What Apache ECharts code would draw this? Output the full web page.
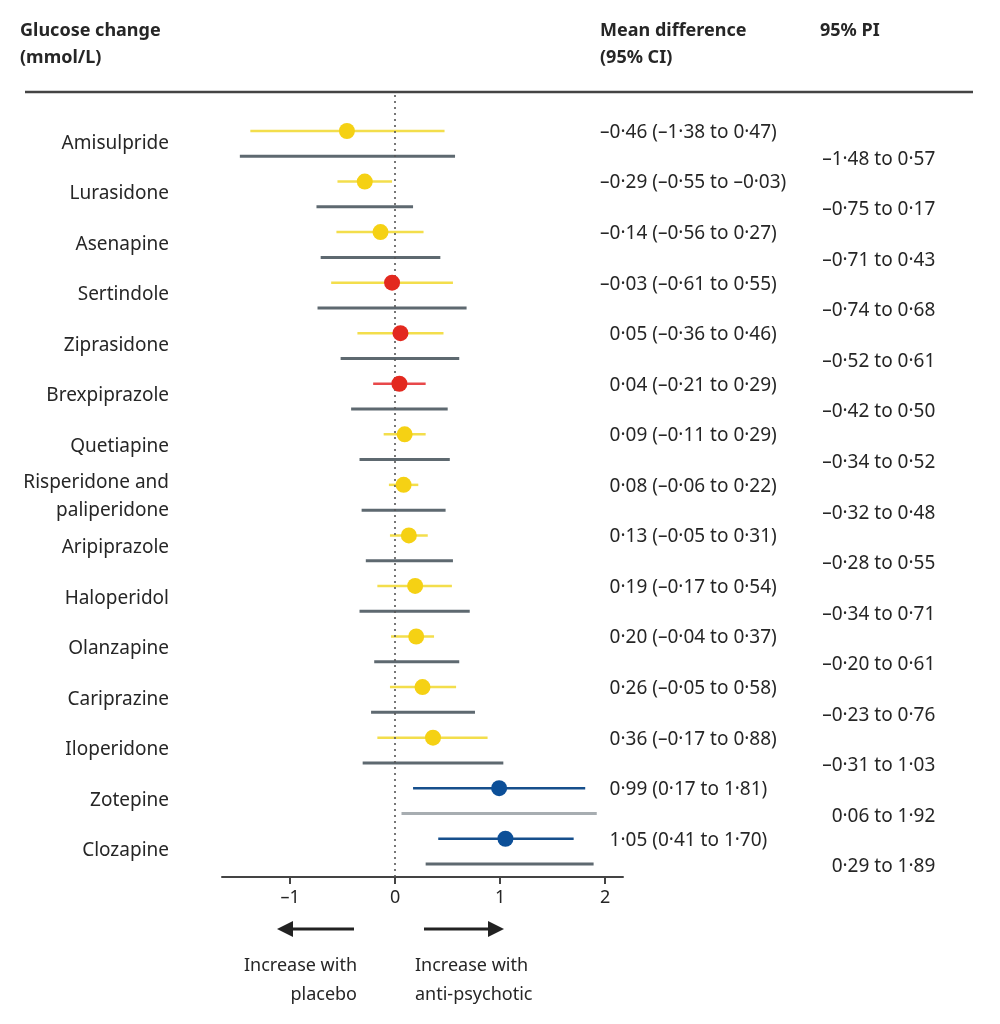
<!DOCTYPE html>
<html>
<head>
<meta charset="utf-8">
<script src="https://cdn.jsdelivr.net/npm/echarts@6/dist/echarts.min.js"></script>
<style>html,body{margin:0;padding:0;background:#fff}#c{width:1000px;height:1024px}</style>
</head>
<body>
<div id="c"></div>
<script>
// ---- data ----
const drugs = ['Amisulpride','Lurasidone','Asenapine','Sertindole','Ziprasidone','Brexpiprazole','Quetiapine','Risperidone and\npaliperidone','Aripiprazole','Haloperidol','Olanzapine','Cariprazine','Iloperidone','Zotepine','Clozapine'];
const meanDiff = [-0.46,-0.29,-0.14,-0.03,0.05,0.04,0.09,0.08,0.13,0.19,0.20,0.26,0.36,0.99,1.05];
const ciLow  = [-1.38,-0.55,-0.56,-0.61,-0.36,-0.21,-0.11,-0.06,-0.05,-0.17,-0.04,-0.05,-0.17,0.17,0.41];
const ciHigh = [0.47,-0.03,0.27,0.55,0.46,0.29,0.29,0.22,0.31,0.54,0.37,0.58,0.88,1.81,1.70];
const piLow  = [-1.48,-0.75,-0.71,-0.74,-0.52,-0.42,-0.34,-0.32,-0.28,-0.34,-0.20,-0.23,-0.31,0.06,0.29];
const piHigh = [0.57,0.17,0.43,0.68,0.61,0.50,0.52,0.48,0.55,0.71,0.61,0.76,1.03,1.92,1.89];
// point class: y = yellow, r = red, b = blue
const pointClass = ['y','y','y','r','r','r','y','y','y','y','y','y','y','b','b'];
const ciClass    = ['y','y','y','y','y','r','y','y','y','y','y','y','y','b','b'];
const piClass    = ['d','d','d','d','d','d','d','d','d','d','d','d','d','l','d'];
const xTicks = [-1,0,1,2];

// ---- styles ----
const FONT = '"Noto Sans"';
const TXT = '#262626';
const pointColors = {y:'#F5D114', r:'#E3291F', b:'#0C4F98'};
const ciColors = {y:'#F3DE4C', r:'#E8484A', b:'#164F8C'};
const piColors = {d:'#5E6970', l:'#A7ADB1'};

const fmt = v => (v < 0 ? '\u2013' : '') + Math.abs(v).toFixed(2).replace('.', '\u00B7');
const pad = v => (v < 0 ? '' : '\u2002');

const idx = drugs.map((d,i)=>i);
const MD_X = 1.952, PI_X = 4.067, LAB_X = -1.65;

function lineSeries(name, lo, hi, off, colorOf, width){
  return {
    type:'custom', name, clip:false, z:3,
    data: idx.map(i=>[lo[i], hi[i], i+off, i]),
    renderItem:(params, api)=>{
      const i = api.value(3);
      const a = api.coord([api.value(0), api.value(2)]);
      const b = api.coord([api.value(1), api.value(2)]);
      return {type:'line', shape:{x1:a[0],y1:a[1],x2:b[0],y2:b[1]},
        style:{stroke:colorOf(i), lineWidth:width, lineCap:'butt'}};
    }
  };
}

function textSeries(name, xv, off, pos, dist, fmtFn){
  return {type:'scatter', name, clip:false, symbolSize:0, itemStyle:{opacity:1},
    data: idx.map(i=>[xv, i+off]),
    label:{show:true, position:pos, distance:dist, fontFamily:FONT, fontSize:19, color:TXT,
      lineHeight:28, formatter:p=>fmtFn(p.dataIndex)}
  };
}

const chart = echarts.init(document.getElementById('c'), null, {renderer:'canvas'});
chart.setOption({
  animation:false,
  backgroundColor:'#fff',
  textStyle:{fontFamily:FONT},
  grid:{left:222, right:377, top:95, bottom:147},
  xAxis:{type:'value', min:-1.65, max:2.17, splitLine:{show:false},
    axisLine:{show:true, onZero:false, lineStyle:{color:'#444', width:2}},
    axisTick:{show:true, customValues:xTicks, length:7, lineStyle:{color:'#444', width:2}},
    axisLabel:{customValues:xTicks, margin:12, fontFamily:FONT, fontSize:18, color:TXT,
      formatter:v=> (v<0?'\u2013':'') + Math.abs(v)}
  },
  yAxis:{type:'value', inverse:true, min:-0.712, max:14.757, show:false},
  series:[
    lineSeries('pi', piLow, piHigh, 0.5, i=>piColors[piClass[i]], 3),
    lineSeries('ci', ciLow, ciHigh, 0, i=>ciColors[ciClass[i]], 2.5),
    {type:'scatter', name:'mean', z:5, symbolSize:16,
      data: idx.map(i=>({value:[meanDiff[i], i], itemStyle:{color:pointColors[pointClass[i]], opacity:1}})),
      markLine:{silent:true, symbol:'none', label:{show:false},
        lineStyle:{type:[2,4], color:'#555', width:1.6},
        data:[{xAxis:0}]}
    },
    textSeries('names', LAB_X, 0.24, 'left', 53, i=>drugs[i]),
    textSeries('md', MD_X, 0.03, 'right', 0,
      i=>pad(meanDiff[i])+fmt(meanDiff[i])+' ('+fmt(ciLow[i])+' to '+fmt(ciHigh[i])+')'),
    textSeries('piText', PI_X, 0.56, 'right', 0,
      i=>pad(piLow[i])+fmt(piLow[i])+' to '+fmt(piHigh[i]))
  ],
  graphic:[
    {type:'text', left:20, top:17, style:{text:'Glucose change\n(mmol/L)', font:'bold 18px '+FONT, fill:TXT, lineHeight:27}},
    {type:'text', left:600, top:17, style:{text:'Mean difference\n(95% CI)', font:'bold 18px '+FONT, fill:TXT, lineHeight:27}},
    {type:'text', left:820, top:17, style:{text:'95% PI', font:'bold 18px '+FONT, fill:TXT, lineHeight:27}},
    {type:'line', shape:{x1:25,y1:92,x2:973,y2:92}, style:{stroke:'#444', lineWidth:2.5}},
    // arrows
    {type:'line', shape:{x1:354,y1:929,x2:290,y2:929}, style:{stroke:'#222', lineWidth:3}},
    {type:'polygon', shape:{points:[[277,929],[293,921],[293,937]]}, style:{fill:'#222'}},
    {type:'line', shape:{x1:424,y1:929,x2:490,y2:929}, style:{stroke:'#222', lineWidth:3}},
    {type:'polygon', shape:{points:[[504,929],[488,921],[488,937]]}, style:{fill:'#222'}},
    {type:'text', x:357, y:951, style:{text:'Increase with\nplacebo', font:'18px '+FONT, fill:TXT, align:'right', lineHeight:29}},
    {type:'text', x:415, y:951, style:{text:'Increase with\nanti-psychotic', font:'18px '+FONT, fill:TXT, align:'left', lineHeight:29}}
  ]
});
</script>
</body>
</html>
